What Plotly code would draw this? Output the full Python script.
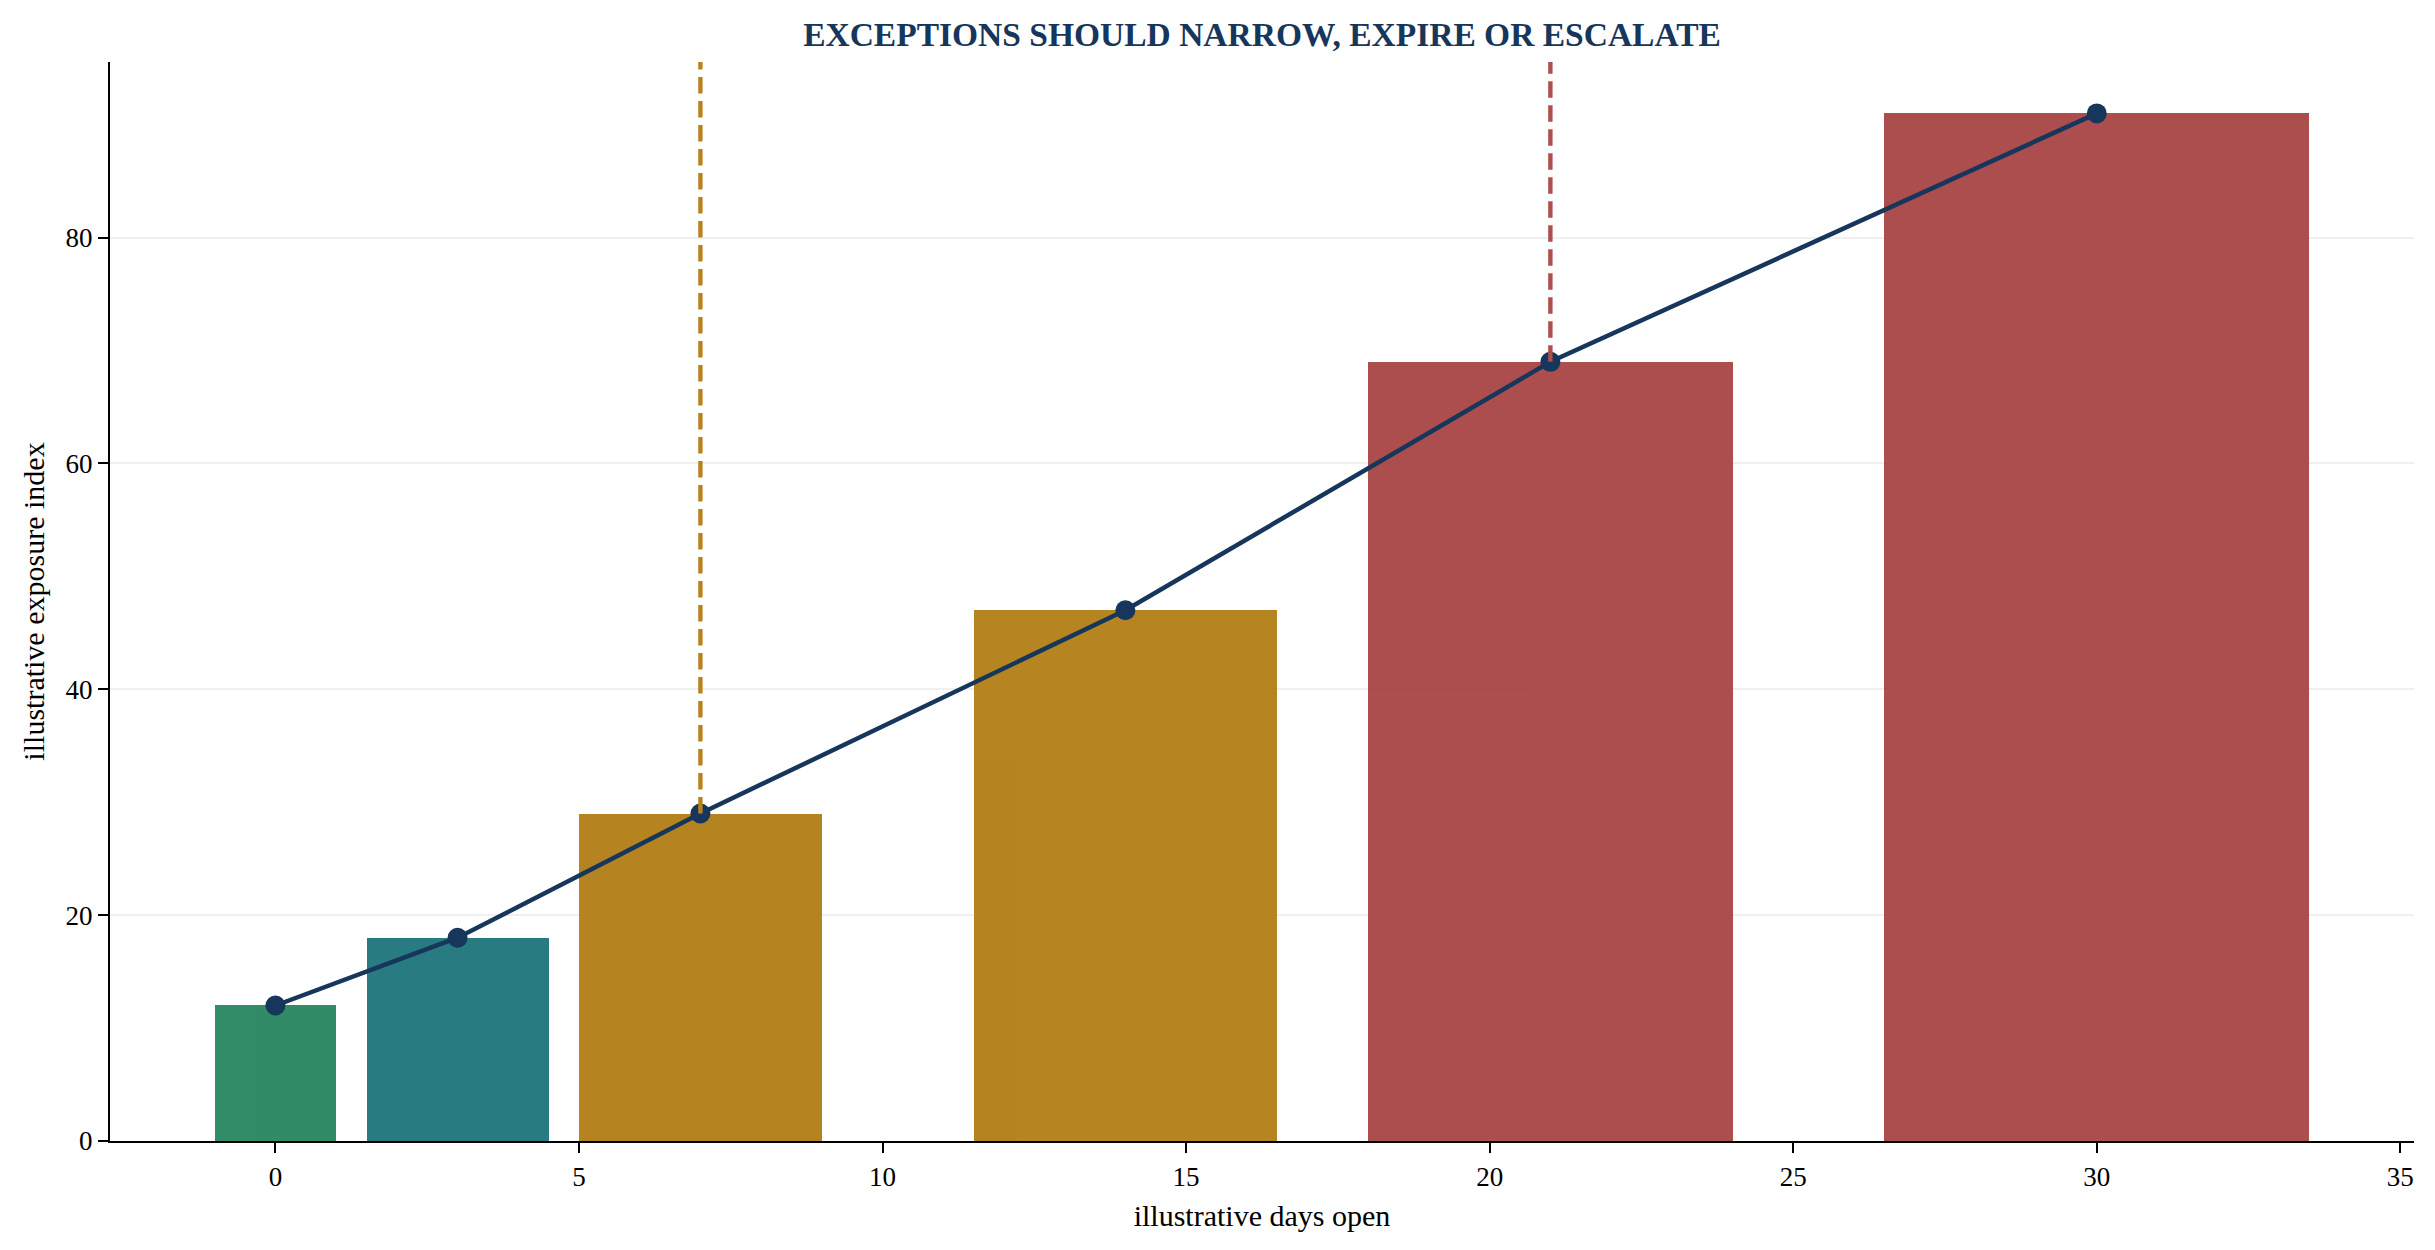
import plotly.graph_objects as go

# ---- data ----
days_open = [0, 3, 7, 14, 21, 30]
exposure_index = [12, 18, 29, 47, 69, 91]
bar_widths = [2, 3, 4, 5, 6, 7]
bar_colors = ["#1b7f57", "#116d73", "#ae7708", "#ae7708", "#a43b3b", "#a43b3b"]
threshold_days = [7, 21]
threshold_colors = ["#b7831f", "#ad4f4f"]
x_ticks = [0, 5, 10, 15, 20, 25, 30, 35]
y_ticks = [0, 20, 40, 60, 80]

TITLE = "EXCEPTIONS SHOULD NARROW, EXPIRE OR ESCALATE"
X_LABEL = "illustrative days open"
Y_LABEL = "illustrative exposure index"

NAVY = "#16365b"
FONT = "Liberation Serif, Times New Roman, serif"

# axis ranges like matplotlib's 5% margins
lefts = [x - w / 2 for x, w in zip(days_open, bar_widths)]
rights = [x + w / 2 for x, w in zip(days_open, bar_widths)]
xmin, xmax = min(lefts), max(rights)
xpad = 0.05 * (xmax - xmin)
ytop = max(exposure_index) * 1.05

fig = go.Figure()
fig.add_trace(go.Bar(
    x=days_open, y=exposure_index, width=bar_widths,
    marker=dict(color=bar_colors, line=dict(width=0)),
    opacity=0.9, showlegend=False, hoverinfo="x+y",
))
fig.add_trace(go.Scatter(
    x=days_open, y=exposure_index, mode="lines+markers",
    line=dict(color=NAVY, width=4.5),
    marker=dict(color=NAVY, size=20, line=dict(width=0)),
    showlegend=False,
))

val_by_day = dict(zip(days_open, exposure_index))
for d, c in zip(threshold_days, threshold_colors):
    fig.add_shape(type="line", xref="x", yref="y",
                  x0=d, x1=d, y0=val_by_day[d], y1=ytop,
                  line=dict(color=c, width=4.4, dash="16.5px,7.5px"),
                  layer="above")

axis_common = dict(
    showline=True, linecolor="black", linewidth=2.2,
    ticks="outside", ticklen=10, tickwidth=2.2, tickcolor="black",
    zeroline=False, mirror=False,
    tickfont=dict(family=FONT, size=27, color="black"),
)

fig.update_layout(
    width=2435, height=1250,
    margin=dict(l=110, r=21, t=62, b=109),
    paper_bgcolor="white", plot_bgcolor="white",
    bargap=0,
    title=dict(text="<b>" + TITLE + "</b>", x=0.5, xref="paper",
               y=1 - 34 / 1250, yref="container", yanchor="middle",
               font=dict(family=FONT, size=33.5, color=NAVY)),
    xaxis=dict(range=[xmin - xpad, xmax + xpad], tickvals=x_ticks,
               showgrid=False,
               title=dict(text=X_LABEL, standoff=14,
                          font=dict(family=FONT, size=30, color="black")),
               automargin=False, **axis_common),
    yaxis=dict(range=[0, ytop], tickvals=y_ticks,
               showgrid=True, gridcolor="#f0f0f0", gridwidth=2,
               title=dict(text=Y_LABEL, standoff=12,
                          font=dict(family=FONT, size=30, color="black")),
               automargin=False, **axis_common),
)

fig.write_html("out.html", config={"displayModeBar": False},
               post_script="document.body.style.margin='0';document.body.style.overflow='hidden';")
